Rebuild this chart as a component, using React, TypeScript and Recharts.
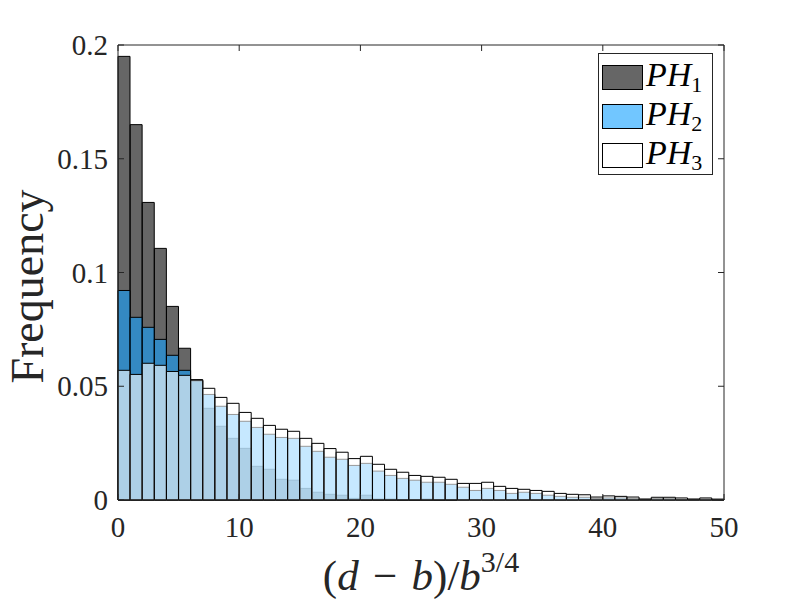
import { BarChart, Bar, XAxis, YAxis, Label } from "recharts";

// bin centres, width 1, from 0 to 50
const binCentres = Array.from({ length: 50 }, (_, i) => i + 0.5);

const ph1 = [
  0.195, 0.165, 0.1308, 0.1106, 0.0851, 0.0667, 0.0529, 0.0403, 0.0324, 0.0271,
  0.0227, 0.0148, 0.0135, 0.0091, 0.0087, 0.0051, 0.0034, 0.0025, 0.0021, 0.0007,
  0.0021, 0.0004, 0.0004, 0.0001, 0.0001, 0.0004, 0.0001, 0.0001, 0, 0,
  0, 0, 0, 0, 0, 0, 0, 0, 0, 0,
  0, 0, 0, 0, 0, 0, 0, 0, 0, 0,
];

const ph2 = [
  0.0921, 0.0803, 0.0759, 0.0706, 0.0636, 0.057, 0.0524, 0.0464, 0.0412, 0.0376,
  0.0346, 0.0319, 0.0289, 0.0275, 0.0271, 0.0236, 0.0214, 0.0188, 0.0179, 0.0152,
  0.0161, 0.0127, 0.0108, 0.0095, 0.0087, 0.0078, 0.0078, 0.0069, 0.0056, 0.0042,
  0.0051, 0.0042, 0.0029, 0.0034, 0.0029, 0.0021, 0.0016, 0.0012, 0.0012, 0.0007,
  0.0009, 0.0009, 0.0006, 0.0003, 0.0006, 0.0006, 0.0003, 0.0003, 0.0004, 0.0001,
];

const ph3 = [
  0.057, 0.0552, 0.0601, 0.0592, 0.0565, 0.0548, 0.0527, 0.0491, 0.0451, 0.0425,
  0.0385, 0.0359, 0.0328, 0.0311, 0.0302, 0.0271, 0.0249, 0.0226, 0.021, 0.0182,
  0.0192, 0.0157, 0.0135, 0.0122, 0.0108, 0.0104, 0.01, 0.0091, 0.0073, 0.0073,
  0.0078, 0.006, 0.0051, 0.0047, 0.0042, 0.0038, 0.0029, 0.0025, 0.0023, 0.0013,
  0.0018, 0.0016, 0.0013, 0.0004, 0.0012, 0.0012, 0.0009, 0.0004, 0.0009, 0.0004,
];

const xTicks = [0, 10, 20, 30, 40, 50];
const yTicks = [0, 0.05, 0.1, 0.15, 0.2];

const series = [
  { key: "ph1", sub: "1", color: "#000000" },
  { key: "ph2", sub: "2", color: "#12a0ff" },
  { key: "ph3", sub: "3", color: "#ffffff" },
];

const data = binCentres.map((x, i) => ({ x, ph1: ph1[i], ph2: ph2[i], ph3: ph3[i] }));

const FONT = "'Liberation Serif', 'Times New Roman', serif";
const AX = "#262626";
const TICK_LEN = 6;

const BottomTick = ({ x, y, payload }: any) => (
  <g>
    <line x1={x} y1={y} x2={x} y2={y - TICK_LEN} stroke={AX} />
    <text x={x} y={y + 37} textAnchor="middle" fontFamily={FONT} fontSize={29} fill={AX}>
      {payload.value}
    </text>
  </g>
);

const TopTick = ({ x, y }: any) => (
  <line x1={x} y1={y} x2={x} y2={y + TICK_LEN} stroke={AX} />
);

const LeftTick = ({ x, y, payload }: any) => (
  <g>
    <line x1={x} y1={y} x2={x + TICK_LEN} y2={y} stroke={AX} />
    <text x={x - 10} y={y} dy="0.35em" textAnchor="end" fontFamily={FONT} fontSize={29} fill={AX}>
      {String(payload.value)}
    </text>
  </g>
);

const RightTick = ({ x, y }: any) => (
  <line x1={x} y1={y} x2={x - TICK_LEN} y2={y} stroke={AX} />
);

const XTitle = ({ viewBox }: any) => {
  const cx = viewBox.x + viewBox.width / 2;
  return (
    <text x={cx} y={viewBox.y + 90} textAnchor="middle" fontFamily={FONT} fontSize={43} fill={AX}>
      <tspan>(</tspan>
      <tspan fontStyle="italic">d</tspan>
      <tspan>{"\u2004\u2212\u2004"}</tspan>
      <tspan fontStyle="italic">b</tspan>
      <tspan>)/</tspan>
      <tspan fontStyle="italic">b</tspan>
      <tspan fontSize={30} dy={-18}>3/4</tspan>
    </text>
  );
};

const YTitle = ({ viewBox }: any) => {
  const x = viewBox.x - 15;
  const y = viewBox.y + viewBox.height / 2 + 14;
  return (
    <text
      x={x}
      y={y}
      transform={`rotate(-90 ${x} ${y})`}
      textAnchor="middle"
      fontFamily={FONT}
      fontSize={46}
      fill={AX}
    >
      Frequency
    </text>
  );
};

const LegendBox = () => (
  <svg
    width={800}
    height={600}
    style={{ position: "absolute", left: 0, top: 0, pointerEvents: "none" }}
  >
    <rect x={598.5} y={53.5} width={114} height={121} fill="#fff" stroke={AX} />
    {series.map((s, i) => {
      const top = 65 + i * 39;
      return (
        <g key={s.key}>
          <rect
            x={602.5}
            y={top + 0.5}
            width={40}
            height={24}
            fill={s.color}
            fillOpacity={0.6}
            stroke="#000"
          />
          <text x={646} y={top + 21} fontFamily={FONT} fontSize={34} fill="#000">
            <tspan fontStyle="italic">PH</tspan>
            <tspan fontSize={22} dy={6}>{s.sub}</tspan>
          </text>
        </g>
      );
    })}
  </svg>
);

export default function App() {
  return (
    <div style={{ position: "absolute", left: 0, top: 0, width: 800, height: 600, background: "#fff" }}>
      <BarChart
        width={800}
        height={600}
        data={data}
        margin={{ top: 15, right: 16, bottom: 70, left: 58 }}
        barCategoryGap={0}
        barGap={0}
      >
        <XAxis
          xAxisId="b"
          dataKey="x"
          type="number"
          domain={[0, 50]}
          ticks={xTicks}
          interval={0}
          height={30}
          tickSize={0}
          tickMargin={0}
          tick={BottomTick}
          axisLine={{ stroke: AX }}
        >
          <Label content={XTitle} />
        </XAxis>
        <XAxis
          xAxisId="t"
          dataKey="x"
          type="number"
          orientation="top"
          domain={[0, 50]}
          ticks={xTicks}
          interval={0}
          height={30}
          tickSize={0}
          tickMargin={0}
          tick={TopTick}
          axisLine={{ stroke: AX }}
        />
        <XAxis xAxisId="h" dataKey="x" type="number" domain={[0, 50]} hide />
        <YAxis
          yAxisId="l"
          type="number"
          domain={[0, 0.2]}
          ticks={yTicks}
          interval={0}
          width={60}
          tickSize={0}
          tickMargin={0}
          tick={LeftTick}
          axisLine={{ stroke: AX }}
        >
          <Label content={YTitle} />
        </YAxis>
        <YAxis
          yAxisId="r"
          type="number"
          orientation="right"
          domain={[0, 0.2]}
          ticks={yTicks}
          interval={0}
          width={60}
          tickSize={0}
          tickMargin={0}
          tick={RightTick}
          axisLine={{ stroke: AX }}
        />
        <Bar
          dataKey="ph1"
          xAxisId="b"
          yAxisId="l"
          fill={series[0].color}
          fillOpacity={0.6}
          stroke="#000"
          strokeWidth={1}
          isAnimationActive={false}
        />
        <Bar
          dataKey="ph2"
          xAxisId="t"
          yAxisId="r"
          fill={series[1].color}
          fillOpacity={0.6}
          stroke="#000"
          strokeWidth={1}
          isAnimationActive={false}
        />
        <Bar
          dataKey="ph3"
          xAxisId="h"
          yAxisId="l"
          fill={series[2].color}
          fillOpacity={0.6}
          stroke="#000"
          strokeWidth={1}
          isAnimationActive={false}
        />
      </BarChart>
      <LegendBox />
    </div>
  );
}
